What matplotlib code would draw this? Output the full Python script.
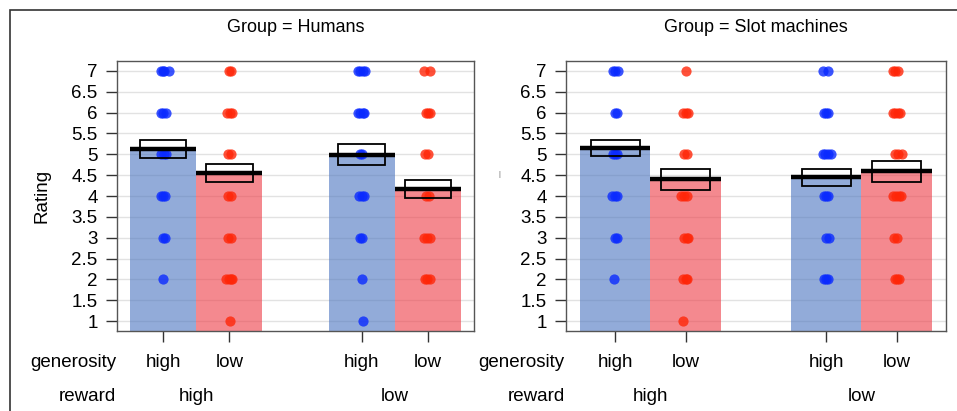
import matplotlib
matplotlib.use("Agg")
import matplotlib.pyplot as plt
from matplotlib.patches import Rectangle
import matplotlib.transforms as mtransforms

plt.rcParams['font.family'] = ['Liberation Sans', 'DejaVu Sans']

# bar order: reward high/generosity high, reward high/gen low, reward low/gen high, reward low/gen low
generosity_labels = ["high", "low", "high", "low"]
reward_labels = ["high", "low"]
panel_titles = ["Group = Humans", "Group = Slot machines"]
y_ticks = [1, 1.5, 2, 2.5, 3, 3.5, 4, 4.5, 5, 5.5, 6, 6.5, 7]

# means and confidence boxes
hum_means = [5.13, 4.55, 4.99, 4.17]
hum_ci_lo = [4.91, 4.34, 4.74, 3.95]
hum_ci_hi = [5.34, 4.77, 5.25, 4.38]
slot_means = [5.15, 4.40, 4.45, 4.60]
slot_ci_lo = [4.96, 4.15, 4.24, 4.34]
slot_ci_hi = [5.34, 4.65, 4.65, 4.84]

# individual ratings (with the small horizontal jitter seen in the picture)
hum_hh_rating = [7, 7, 7, 7, 6, 6, 6, 5, 5, 5, 4, 4, 4, 3, 3, 2]
hum_hh_dx = [-.03, 0, .015, .09, -.03, 0, .035, -.03, .01, .04, -.03, 0, .03, -.01, .03, 0]
hum_hl_rating = [7, 7, 6, 6, 6, 5, 5, 4, 4, 3, 3, 2, 2, 2, 2, 1]
hum_hl_dx = [-.01, .03, -.03, .01, .04, -.02, .03, -.02, .02, -.02, .03, -.05, -.01, .02, .04, .01]
hum_lh_rating = [7, 7, 7, 7, 6, 6, 6, 6, 5, 5, 4, 4, 4, 3, 3, 2, 1]
hum_lh_dx = [-.05, -.02, .02, .05, -.05, -.02, .02, .04, -.02, .01, -.04, 0, .03, -.03, .01, 0, .02]
hum_ll_rating = [7, 7, 6, 6, 6, 5, 5, 4, 4, 3, 3, 3, 2, 2, 2]
hum_ll_dx = [-.06, .03, -.02, .01, .04, -.04, 0, -.03, .02, -.06, -.01, .03, -.04, -.01, .03]

slot_hh_rating = [7, 7, 7, 6, 6, 5, 5, 5, 4, 4, 4, 3, 3, 2]
slot_hh_dx = [-.03, 0, .04, -.01, .02, -.03, 0, .03, -.04, 0, .03, 0, .03, -.02]
slot_hl_rating = [7, 6, 6, 6, 5, 5, 4, 4, 4, 3, 3, 3, 2, 2, 2, 1]
slot_hl_dx = [.01, -.03, 0, .04, -.02, .02, -.06, -.02, .02, -.02, .02, .04, -.03, 0, .02, -.03]
slot_lh_rating = [7, 7, 6, 6, 6, 5, 5, 5, 5, 4, 4, 4, 3, 3, 2, 2, 2]
slot_lh_dx = [-.05, .02, -.03, 0, .03, -.05, -.02, .02, .06, -.03, 0, .03, 0, .04, -.03, 0, .03]
slot_ll_rating = [7, 7, 7, 6, 6, 6, 6, 5, 5, 5, 4, 4, 4, 4, 3, 3, 2, 2, 2]
slot_ll_dx = [-.05, -.02, .02, -.05, -.02, .02, .05, -.02, .02, .07, -.05, -.01, .03, .06, -.04, 0, -.03, 0, .04]

panels = [
    (hum_means, hum_ci_lo, hum_ci_hi,
     [(hum_hh_rating, hum_hh_dx), (hum_hl_rating, hum_hl_dx),
      (hum_lh_rating, hum_lh_dx), (hum_ll_rating, hum_ll_dx)]),
    (slot_means, slot_ci_lo, slot_ci_hi,
     [(slot_hh_rating, slot_hh_dx), (slot_hl_rating, slot_hl_dx),
      (slot_lh_rating, slot_lh_dx), (slot_ll_rating, slot_ll_dx)]),
]

bar_cols = ["#4a74c0", "#ee3b45", "#4a74c0", "#ee3b45"]
dot_cols = ["#0a2aff", "#ff2608", "#0a2aff", "#ff2608"]
xpos = [1, 2, 4, 5]

fig = plt.figure(figsize=(9.57, 4.11), dpi=100)
ax_rects = [[0.1223, 0.1946, 0.373, 0.657], [0.5914, 0.1946, 0.397, 0.657]]

for p, (means, lo, hi, dots) in enumerate(panels):
    ax = fig.add_axes(ax_rects[p])
    ax.set_xlim(0.3, 5.7)
    ax.set_ylim(0.76, 7.24)

    for yt in y_ticks:
        ax.axhline(yt, color="#e2e2e2", lw=1.0, zorder=0)

    for i in range(4):
        ax.bar(xpos[i], means[i], width=1.0, color=bar_cols[i], alpha=0.6,
               linewidth=0, zorder=1)
        rat, dx = dots[i]
        ax.scatter([xpos[i] + d for d in dx], rat, s=54, color=dot_cols[i],
                   alpha=0.8, linewidths=0, zorder=2)
        ax.add_patch(Rectangle((xpos[i] - 0.35, lo[i]), 0.7, hi[i] - lo[i],
                               fill=False, edgecolor="black", lw=1.3, zorder=3))
        ax.hlines(means[i], xpos[i] - 0.5, xpos[i] + 0.5, color="black",
                  lw=3.2, zorder=4)

    ax.set_yticks(y_ticks)
    ax.set_yticklabels([f"{t:g}" for t in y_ticks], fontsize=13.5)
    ax.set_xticks(xpos)
    ax.set_xticklabels([])
    ax.tick_params(axis="both", direction="out", length=8, width=1,
                   color="#333333", pad=6)
    for s in ax.spines.values():
        s.set_color("#555555")
        s.set_linewidth(1.0)

    trans = mtransforms.blended_transform_factory(ax.transData, ax.transAxes)
    for i in range(4):
        ax.text(xpos[i], -0.118, generosity_labels[i], transform=trans,
                ha="center", va="center", fontsize=13.5)
    ax.text((xpos[0] + xpos[1]) / 2, -0.244, reward_labels[0], transform=trans,
            ha="center", va="center", fontsize=13.5)
    ax.text((xpos[2] + xpos[3]) / 2, -0.244, reward_labels[1], transform=trans,
            ha="center", va="center", fontsize=13.5)
    ax.text(-0.003, -0.118, "generosity", transform=ax.transAxes,
            ha="right", va="center", fontsize=13.5)
    ax.text(-0.003, -0.244, "reward", transform=ax.transAxes,
            ha="right", va="center", fontsize=13.5)

    fig.text(ax_rects[p][0] + ax_rects[p][2] / 2, 1 - 28 / 411, panel_titles[p],
             ha="center", va="center", fontsize=13)

    if p == 0:
        ax.text(-0.21, 0.5, "Rating", transform=ax.transAxes, rotation=90,
                ha="center", va="center", fontsize=13.5)
    else:
        ax.text(-0.176, 0.578, "|", transform=ax.transAxes, ha="center",
                va="center", fontsize=5, color="#666666")

# outer frame of the screenshot (left and top edges visible)
fig.add_artist(Rectangle((10 / 957, -0.2), 1.2, 1.2 - 10 / 411,
                         transform=fig.transFigure, fill=False,
                         edgecolor="#333333", lw=1.2))

fig.savefig("out.png", dpi=100)
